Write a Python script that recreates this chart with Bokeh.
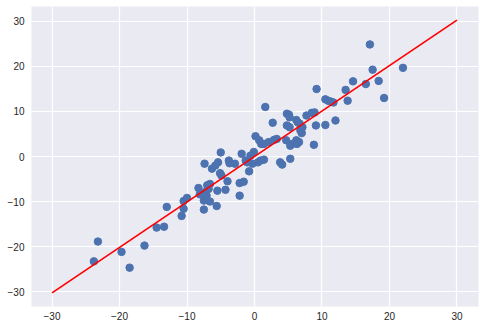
from bokeh.plotting import figure
from bokeh.models import Range1d, FixedTicker
from bokeh.embed import file_html
from bokeh.resources import INLINE

# scatter data
x_vals = [-23.8, -23.2, -19.7, -18.5, -16.3, -14.5, -13.4, -13.0, -10.8, -10.5,
          -10.5, -10.0, -8.3, -8.1, -7.5, -7.5, -7.3, -7.1, -7.0, -6.6,
          -6.6, -5.6, -5.5, -4.3, -4.0, -2.2, -2.2, -1.6, -7.4, -6.3,
          -5.8, -5.4, -5.0, -5.1, -4.9, -3.8, -3.7, -2.9, -1.9, -0.8,
          -1.3, -1.1, -0.6, -0.1, 0.15, 0.7, 1.0, 1.4, 2.1, 2.9,
          3.3, 4.7, 5.3, 5.6, 6.2, 6.6, 6.3, 7.0, 8.8, 0.9,
          1.4, 3.8, 4.1, 5.3, 1.6, 2.7, 4.8, 5.1, 5.2, 6.2,
          6.4, 6.7, 4.8, 5.2, 7.1, 6.8, 7.7, 8.5, 8.9, 9.1,
          10.5, 12.0, 9.2, 10.5, 10.9, 11.3, 11.7, 13.8, 13.5, 14.6,
          16.5, 17.1, 17.5, 18.4, 19.2, 22.0, 0.5, -0.3, -6.8, -7.6]
y_vals = [-23.3, -18.9, -21.2, -24.7, -19.8, -15.8, -15.6, -11.2, -13.2, -11.6,
          -9.9, -9.2, -7.0, -8.4, -11.8, -9.8, -7.9, -8.7, -6.4, -6.1,
          -10.0, -11.0, -7.6, -7.4, -5.5, -8.7, -5.9, -5.6, -1.6, -2.7,
          -2.0, -1.3, 0.9, -3.7, -4.2, -0.9, -1.5, -1.6, 0.6, -3.3,
          -0.9, -1.3, 0.2, 1.0, 4.5, 3.6, 2.8, 2.8, 3.2, 3.7,
          3.9, 3.6, 2.4, 2.8, 3.6, 3.2, 2.8, 5.2, 2.6, -0.9,
          -0.7, -1.3, -1.8, -0.5, 11.0, 7.5, 9.5, 9.3, 8.7, 8.1,
          7.6, 7.3, 6.9, 6.5, 6.5, 5.8, 9.1, 9.7, 9.8, 6.9,
          7.0, 8.0, 15.0, 12.7, 12.4, 12.2, 12.0, 12.4, 14.8, 16.7,
          16.1, 24.9, 19.3, 16.8, 13.0, 19.7, -1.3, -1.6, -7.2, -8.2]

# fitted line
line_x = [-30, 30]
line_y = [-30.3, 30.3]

# tick values
x_ticks = [-30, -20, -10, 0, 10, 20, 30]
y_ticks = [-30, -20, -10, 0, 10, 20, 30]


def tick_text(v):
    return ("\u2212" + str(abs(v))) if v < 0 else str(v)


p = figure(frame_width=447, frame_height=300, output_backend="svg", toolbar_location=None,
           x_range=Range1d(-33.04, 33.19), y_range=Range1d(-33.33, 33.33),
           min_border_left=31, min_border_right=6, min_border_top=6,
           min_border_bottom=24)

p.background_fill_color = "#EAEAF2"
p.border_fill_color = "white"
p.outline_line_color = None

for ax in (p.xaxis, p.yaxis):
    ax.axis_line_color = None
    ax.major_tick_line_color = None
    ax.minor_tick_line_color = None
    ax.major_tick_out = 0
    ax.major_tick_in = 0
    ax.minor_tick_out = 0
    ax.minor_tick_in = 0
    ax.major_label_text_font = "Liberation Sans"
    ax.major_label_text_font_size = "10px"
    ax.major_label_text_color = "#262626"

p.xaxis.ticker = FixedTicker(ticks=x_ticks)
p.yaxis.ticker = FixedTicker(ticks=y_ticks)
p.xaxis.major_label_overrides = {t: tick_text(t) for t in x_ticks}
p.yaxis.major_label_overrides = {t: tick_text(t) for t in y_ticks}
p.xaxis.major_label_standoff = 5
p.yaxis.major_label_standoff = 7

p.xgrid.grid_line_color = "white"
p.ygrid.grid_line_color = "white"
p.xgrid.grid_line_width = 1.2
p.ygrid.grid_line_width = 1.2

p.scatter(x_vals, y_vals, size=7.5, fill_color="#4C72B0", line_color="#4C72B0")
p.line(line_x, line_y, line_color="#FF0000", line_width=1.7)

open("out.html", "w").write(file_html(p, INLINE))
